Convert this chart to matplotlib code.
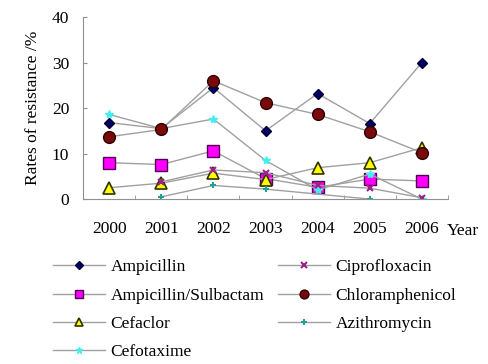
import numpy as np
import matplotlib
matplotlib.use("Agg")
import matplotlib.pyplot as plt

plt.rcParams['font.family'] = ['Liberation Serif', 'DejaVu Serif']

years = ['2000', '2001', '2002', '2003', '2004', '2005', '2006']
nan = np.nan

# resistance rates (%) per antibiotic
ampicillin = [16.8, 15.5, 24.5, 15.0, 23.2, 16.6, 30.0]
amp_sulbactam = [8.0, 7.6, 10.6, 4.5, 2.6, 4.4, 4.0]
cefaclor = [2.5, 3.5, 5.7, 4.3, 6.9, 8.0, 11.3]
cefotaxime = [18.6, 15.5, 17.6, 8.5, 2.0, 5.5, 0.0]
ciprofloxacin = [nan, 3.8, 6.4, 5.8, 3.0, 2.4, 0.3]
chloramphenicol = [13.7, 15.3, 26.0, 21.2, 18.6, 14.8, 10.2]
azithromycin = [nan, 0.5, 3.0, 2.2, nan, 0.0, nan]

x = np.arange(len(years))

fig = plt.figure(figsize=(4.89, 3.64), dpi=100)
ax = fig.add_axes([0.170, 0.453, 0.746, 0.50])

line_col = '#a0a0a0'
series = [
    ('Ampicillin', ampicillin, dict(marker='D', ms=5.5, mfc='#000066', mec='#000033')),
    ('Ampicillin/Sulbactam', amp_sulbactam, dict(marker='s', ms=8, mfc='#ff00ff', mec='#550055')),
    ('Cefaclor', cefaclor, dict(marker='^', ms=8, mfc='#ffff00', mec='#303000', mew=1.2)),
    ('Cefotaxime', cefotaxime, dict(marker='*', ms=6, mfc='#40f0f0', mec='#40f0f0')),
    ('Ciprofloxacin', ciprofloxacin, dict(marker='x', ms=5, mfc='#a0208a', mec='#a0208a', mew=1.5)),
    ('Chloramphenicol', chloramphenicol, dict(marker='o', ms=8.5, mfc='#7a0a0a', mec='#300000')),
    ('Azithromycin', azithromycin, dict(marker='+', ms=5, mfc='#20a090', mec='#20a090', mew=1.5)),
]

for name, vals, style in series:
    v = np.array(vals, dtype=float)
    ok = ~np.isnan(v)
    ax.plot(x[ok], v[ok], color=line_col, lw=1.0, label=name, **style)

ax.set_xlim(-0.5, 6.5)
ax.set_ylim(0, 40)
ax.set_yticks([0, 10, 20, 30, 40])
ax.set_xticks(x)
ax.set_xticklabels(years)
ax.set_xticks(np.arange(-0.5, 7, 1), minor=True)
ax.tick_params(axis='x', which='major', length=0, pad=16, labelsize=12.5)
ax.tick_params(axis='x', which='minor', length=3, direction='in', color='#909090')
ax.tick_params(axis='y', length=3, direction='in', color='#909090', labelsize=12.5, pad=10)
for s in ['top', 'right']:
    ax.spines[s].set_visible(False)
for s in ['left', 'bottom']:
    ax.spines[s].set_color('#909090')

ax.set_ylabel('Rates of resistance /%', fontsize=12.5, labelpad=8)
ax.text(6.48, -0.175, 'Year', transform=ax.get_xaxis_transform(), fontsize=12.5,
        ha='left', va='center')

fig.legend(loc='upper left', bbox_to_anchor=(0.095, 0.307), ncol=2, frameon=False,
           fontsize=12.5, handlelength=3.0, columnspacing=0.8, labelspacing=0.7,
           handletextpad=0.3, borderaxespad=0, markerscale=0.75)

fig.savefig('out.png', dpi=100)
